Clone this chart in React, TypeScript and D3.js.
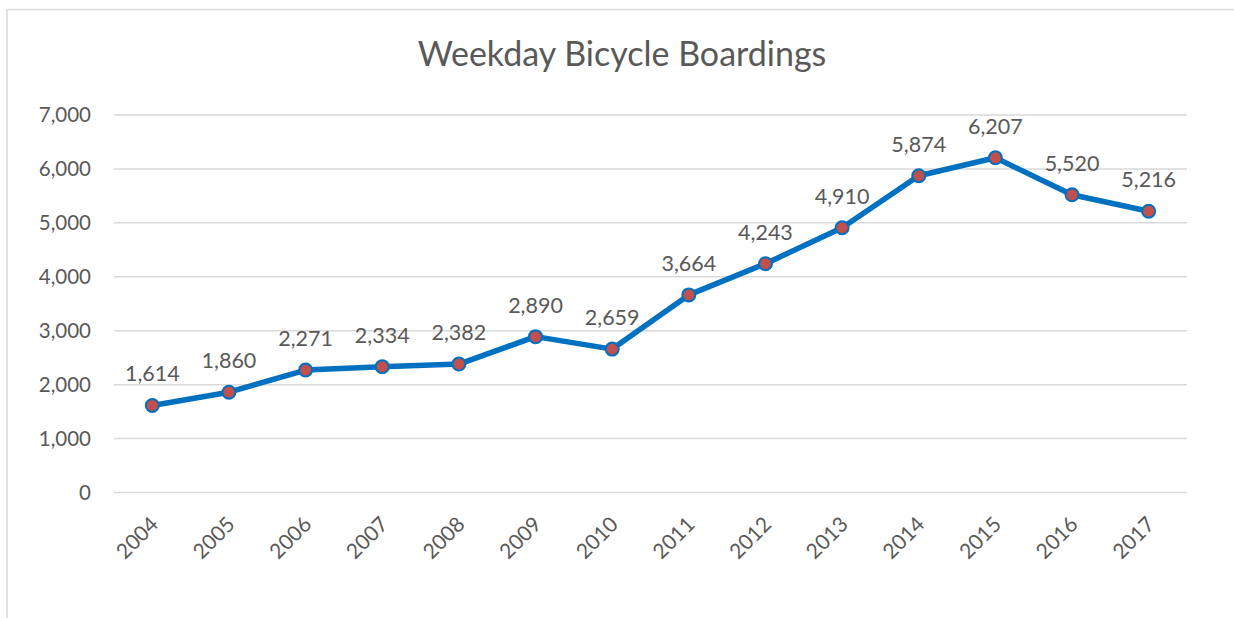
import React from "react";
import * as d3 from "d3";

const years = ["2004","2005","2006","2007","2008","2009","2010","2011","2012","2013","2014","2015","2016","2017"];
const boardings = [1614,1860,2271,2334,2382,2890,2659,3664,4243,4910,5874,6207,5520,5216];
const yTicks = [0,1000,2000,3000,4000,5000,6000,7000];

export default function App() {
  const W = 1234, H = 618;
  const left = 114, right = 1187, top = 115, bottom = 492.5;
  const x = d3.scaleBand().domain(years).range([left, right]);
  const y = d3.scaleLinear().domain([0, 7000]).range([bottom, top]);
  const cx = (d: string) => (x(d) as number) + x.bandwidth() / 2;
  const line = d3.line<number>().x((_, i) => cx(years[i])).y(v => y(v));
  const fmt = d3.format(",");
  const font = "Lato, 'Open Sans', sans-serif";
  const grey = "#595959";
  return (
    <svg width={W} height={H} style={{ position: "absolute", left: 0, top: 0 }} fontFamily={font}>
      <rect x={0} y={0} width={W} height={H} fill="#fff" />
      <rect x={7} y={9.5} width={W + 10} height={H + 10} fill="none" stroke="#d9d9d9" strokeWidth={1.5} />
      <text x={622} y={66} textAnchor="middle" fontSize={34} fill={grey}>Weekday Bicycle Boardings</text>
      {yTicks.map(t => (
        <g key={t}>
          <line x1={left} x2={right} y1={y(t)} y2={y(t)} stroke="#d9d9d9" strokeWidth={1.5} />
          <text x={91} y={y(t)} dy="0.36em" textAnchor="end" fontSize={20.5} fill={grey}>{fmt(t)}</text>
        </g>
      ))}
      {years.map(yr => (
        <text key={yr} transform={`translate(${cx(yr) + 2},${bottom + 28}) rotate(-45)`} textAnchor="end" dy="0.35em" fontSize={21} fill={grey}>{yr}</text>
      ))}
      <path d={line(boardings) || ""} fill="none" stroke="#0070c0" strokeWidth={5.5} strokeLinejoin="round" />
      {boardings.map((v, i) => (
        <circle key={i} cx={cx(years[i])} cy={y(v)} r={6.5} fill="#c0504d" stroke="#0070c0" strokeWidth={2} />
      ))}
      {boardings.map((v, i) => (
        <text key={"l" + i} x={cx(years[i])} y={y(v) - 24} textAnchor="middle" fontSize={21.5} fill={grey}>{fmt(v)}</text>
      ))}
    </svg>
  );
}
